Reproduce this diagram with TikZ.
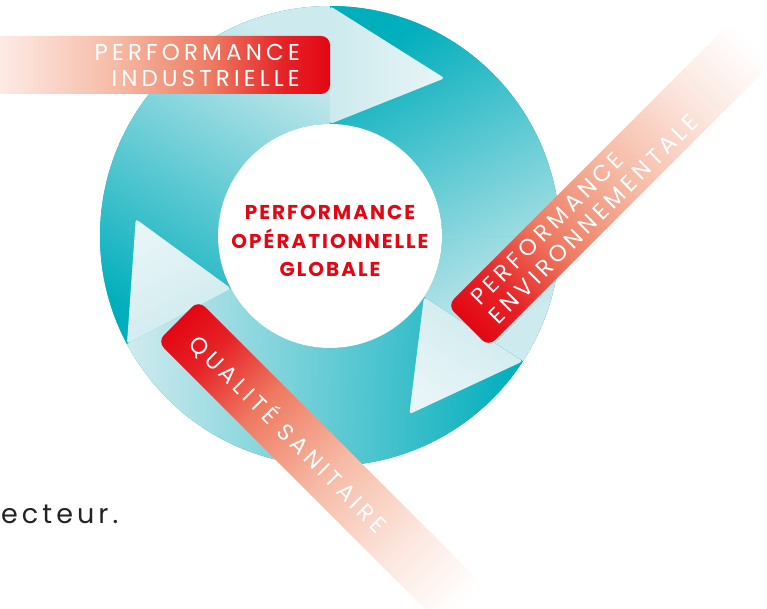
\documentclass[tikz,border=0pt]{standalone}
\usepackage{fontspec}
\setmainfont{Poppins}
\usepackage{tikz}

\definecolor{tealdark}{HTML}{00AEBC}
\definecolor{teallight}{HTML}{CDEAEE}
\definecolor{headlight}{HTML}{E8F5F7}
\definecolor{redr}{HTML}{E30613}
\definecolor{salmon}{HTML}{EE7B62}
\definecolor{pinkl}{HTML}{F6BBA6}
\definecolor{inkgray}{HTML}{222222}

\pgfdeclarehorizontalshading{ribbonfade}{100bp}{color(0bp)=(redr); color(25bp)=(redr);
  color(31bp)=(redr!75!salmon); color(40bp)=(salmon); color(52bp)=(pinkl);
  color(65bp)=(pinkl!35!white); color(75bp)=(white); color(100bp)=(white)}

\begin{document}
\begin{tikzpicture}[x=1pt,y=1pt,
    ribbontext/.style={text=white,inner sep=0pt,
      font=\fontsize{23}{26}\selectfont\addfontfeature{LetterSpace=18}},
    band/.style={shading=ribbonfade,rounded corners=9pt}]
  \useasboundingbox (0,0) rectangle (767,608);

  % ring
  \begin{scope}[shift={(330,372)}]
    \fill[tealdark] (0,0) circle (230);
    \foreach \s/\e/\ang in {208/90/-31, 90/-33/-151.5, -33/-152/87.5}
      \shade[top color=teallight,bottom color=tealdark,shading angle=\ang]
        (\s:230) arc[start angle=\s,end angle=\e,radius=230]
        -- (\e:112) arc[start angle=\e,end angle=\s,radius=112] -- cycle;
    \draw[tealdark!30!teallight,line width=0.6pt] (0:112) -- (0:229);
    \foreach \b/\t/\ang in {90/54/-90, -33/-66/147, 208/175/28}
      \shade[top color=headlight,bottom color=teallight,shading angle=\ang,
        rounded corners=3pt] (\b:230) -- (\t:195) -- (\b:112) -- cycle;
  \end{scope}
  \node[circle,fill=white,minimum size=224pt,inner sep=0pt] (core) at (330,372) {};
  \node[text=redr,align=center,inner sep=0pt,
    font=\fontsize{20}{28.5}\selectfont\bfseries\addfontfeature{LetterSpace=10}]
    (global) at (330,367) {PERFORMANCE\\OPÉRATIONNELLE\\GLOBALE};

  % bands
  \shade[band,shading angle=180] (-70,514) rectangle (330,572);
  \node[ribbontext,align=right,anchor=east] (indus) at (300,543) {PERFORMANCE\\INDUSTRIELLE};

  \begin{scope}[transform canvas={shift={(468,282)},rotate=45}]
    \shade[band] (0,-29) rectangle (400,29);
    \node[ribbontext,align=left,anchor=west] (envir) at (22,0) {PERFORMANCE\\ENVIRONNEMENTALE};
  \end{scope}

  \begin{scope}[transform canvas={shift={(178,287)},rotate=-45}]
    \shade[band] (0,-29) rectangle (400,29);
    \node[ribbontext,anchor=west] (sanit) at (24,-1) {QUALITÉ SANITAIRE};
  \end{scope}

  \node[anchor=base west,inner sep=0pt,text=inkgray,
    font=\fontsize{27}{30}\selectfont\addfontfeature{LetterSpace=15}] (tail) at (1,85) {ecteur.};
\end{tikzpicture}
\end{document}
